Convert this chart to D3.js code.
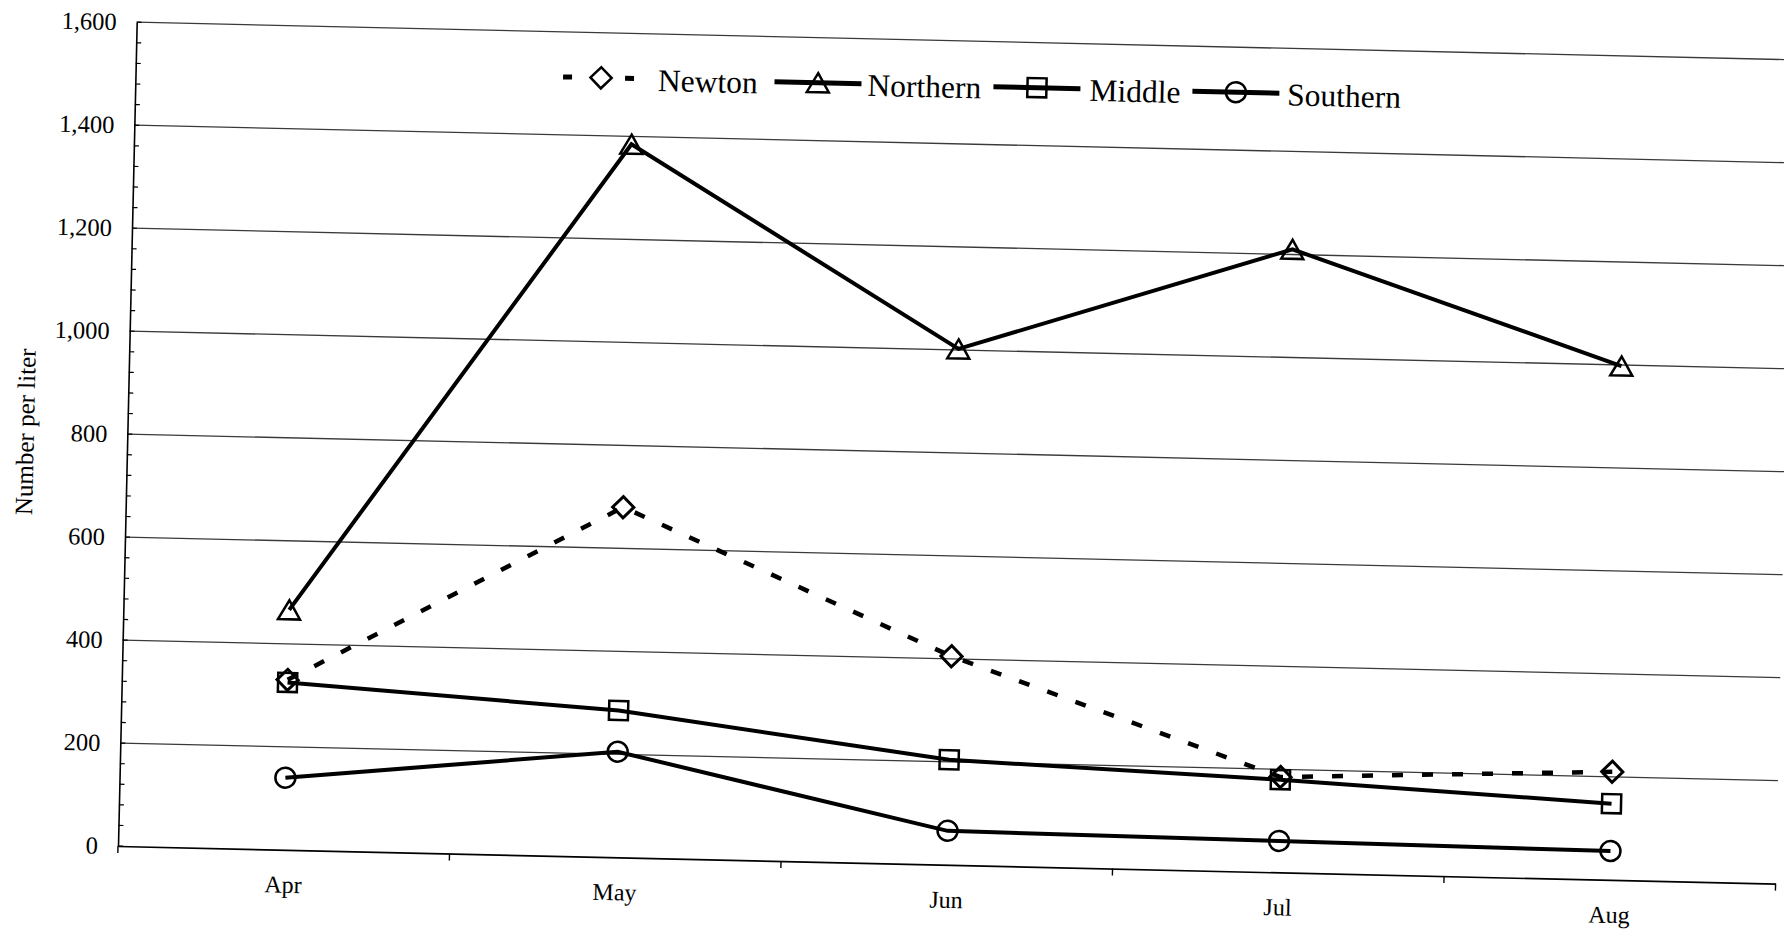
<!DOCTYPE html>
<html><head><meta charset="utf-8">
<script src="https://cdn.jsdelivr.net/npm/d3@7"></script>
<style>
body{margin:0;background:#fff}
svg{display:block}
text{font-family:"Liberation Serif","Times New Roman",serif;fill:#000}
</style>
</head><body>
<svg id="chart" width="1784" height="930"></svg>
<script>
// ---- data ----
const months = ["Apr","May","Jun","Jul","Aug"];
const seriesNames = ["Newton","Northern","Middle","Southern"];
const newton   = [330, 680, 405, 185, 210];
const northern = [466, 1385, 1002, 1210, 998];
const middle   = [325, 285, 204, 180, 148];
const southern = [140, 205, 66, 61, 56];
const yTicks = [0,200,400,600,800,1000,1200,1400,1600];
const yTitle = "Number per liter";

// ---- layout ----
const L = 118, R = 1776, T = 22, B = 846;
const tilt = 1.3; // scanned page is slightly rotated
const svg = d3.select("#chart");
const g = svg.append("g").attr("transform", `rotate(${tilt},${L},${B})`);

const x = d3.scaleBand().domain(months).range([L, R]);
const xc = m => x(m) + x.bandwidth()/2;
const y = d3.scaleLinear().domain([0, 1600]).range([B, T]);

const series = [
  {name: seriesNames[0], values: newton,   marker: "diamond",  dashed: true},
  {name: seriesNames[1], values: northern, marker: "triangle", dashed: false},
  {name: seriesNames[2], values: middle,   marker: "square",   dashed: false},
  {name: seriesNames[3], values: southern, marker: "circle",   dashed: false}
];

const mSize = {diamond: 225, triangle: 210, square: 361, circle: 314};
function markerPath(type) {
  const t = {diamond: d3.symbolSquare, triangle: d3.symbolTriangle,
             square: d3.symbolSquare, circle: d3.symbolCircle}[type];
  return d3.symbol().type(t).size(mSize[type])();
}
// triangle: centre its bounding box (not centroid) on the point
const triShift = Math.sqrt(mSize.triangle / (3 * Math.sqrt(3))) / 2;
function markerTf(type) {
  if (type === "diamond") return " rotate(45)";
  if (type === "triangle") return ` translate(0,${triShift})`;
  return "";
}

// gridlines
g.append("g").selectAll("line").data(yTicks.filter(d => d > 0)).join("line")
  .attr("x1", L).attr("x2", R)
  .attr("y1", d => y(d)).attr("y2", d => y(d))
  .attr("stroke", "#3a3a3a").attr("stroke-width", 1.3);

// minor ticks on y axis (inside)
g.append("g").selectAll("line").data(d3.range(0, 1601, 40)).join("line")
  .attr("x1", L).attr("x2", L + 5)
  .attr("y1", d => y(d)).attr("y2", d => y(d))
  .attr("stroke", "#000").attr("stroke-width", 1.2);

// y axis
const yAxis = g.append("g").attr("transform", `translate(${L},0)`)
  .call(d3.axisLeft(y).tickValues(yTicks).tickFormat(d3.format(",")).tickSize(0).tickPadding(20));
yAxis.select(".domain").attr("stroke", "#000").attr("stroke-width", 1.6);
yAxis.selectAll("text").style("font-family", '"Liberation Serif",serif').style("font-size", "24.5px");

// x axis
const xAxis = g.append("g").attr("transform", `translate(0,${B})`)
  .call(d3.axisBottom(x).tickSizeInner(0).tickSizeOuter(0).tickPadding(26));
xAxis.select(".domain").attr("stroke", "#000").attr("stroke-width", 1.6);
xAxis.selectAll("text").style("font-family", '"Liberation Serif",serif').style("font-size", "24px");
const bounds = months.map(m => x(m)).concat([R]);
g.append("g").selectAll("line").data(bounds).join("line")
  .attr("x1", d => d).attr("x2", d => d).attr("y1", B).attr("y2", B + 7)
  .attr("stroke", "#000").attr("stroke-width", 1.4);

// y title
g.append("text")
  .attr("transform", `translate(${16},${(T + B) / 2}) rotate(-90)`)
  .attr("text-anchor", "middle").attr("dominant-baseline", "central")
  .style("font-size", "25px").text(yTitle);

// series lines
const line = d3.line().x((d, i) => xc(months[i])).y(d => y(d));
series.forEach(s => {
  g.append("path").datum(s.values)
    .attr("d", line).attr("fill", "none").attr("stroke", "#000")
    .attr("stroke-width", s.dashed ? 4.5 : 4)
    .attr("stroke-dasharray", s.dashed ? "11,19" : null);
});
// markers
series.forEach(s => {
  g.append("g").selectAll("path").data(s.values).join("path")
    .attr("d", markerPath(s.marker))
    .attr("transform", (d, i) => `translate(${xc(months[i])},${y(d)})` + markerTf(s.marker))
    .attr("fill", "none").attr("stroke", "#000").attr("stroke-width", s.marker === "diamond" ? 3 : 2.5);
});

// legend
const legX = [545.5, 757, 976, 1175];
const legTextDx = [95, 93, 96, 95];
const legLen = 87, legY = 67;
const leg = g.append("g").selectAll("g").data(series).join("g")
  .attr("transform", (d, i) => `translate(${legX[i]},${legY})`);
leg.append("line")
  .attr("x1", 0).attr("x2", d => d.dashed ? 72 : legLen).attr("y1", 0).attr("y2", 0)
  .attr("stroke", "#000").attr("stroke-width", 5)
  .attr("stroke-dasharray", d => d.dashed ? "9,53" : null);
leg.append("path")
  .attr("d", d => markerPath(d.marker))
  .attr("transform", d => `translate(${d.dashed ? 38 : legLen / 2},0)` + markerTf(d.marker))
  .attr("fill", "none").attr("stroke", "#000").attr("stroke-width", 2.5);
leg.append("text")
  .attr("x", (d, i) => legTextDx[i]).attr("y", 12)
  .style("font-size", "31.5px").text(d => d.name);
</script>
</body></html>
